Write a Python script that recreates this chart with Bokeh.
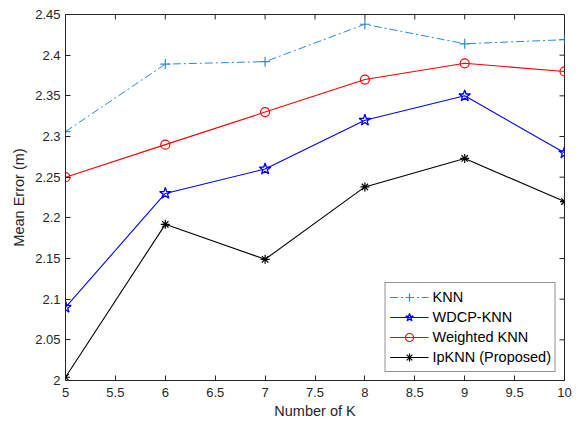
import math
from bokeh.plotting import figure
from bokeh.models import FixedTicker, Range1d, Legend, LegendItem
from bokeh.embed import file_html
from bokeh.resources import INLINE

k = [5, 6, 7, 8, 9, 10]
knn = [2.306, 2.389, 2.392, 2.438, 2.414, 2.419]
wdcp = [2.09, 2.23, 2.26, 2.32, 2.35, 2.28]
weighted = [2.25, 2.29, 2.33, 2.37, 2.39, 2.38]
ipknn = [2.004, 2.192, 2.149, 2.238, 2.273, 2.220]

x_ticks = [5, 5.5, 6, 6.5, 7, 7.5, 8, 8.5, 9, 9.5, 10]
x_labels = ["5", "5.5", "6", "6.5", "7", "7.5", "8", "8.5", "9", "9.5", "10"]
y_ticks = [2, 2.05, 2.1, 2.15, 2.2, 2.25, 2.3, 2.35, 2.4, 2.45]
y_labels = ["2", "2.05", "2.1", "2.15", "2.2", "2.25", "2.3", "2.35", "2.4", "2.45"]

FONT = "Liberation Sans"
AX = "#262626"
X0, X1, Y0, Y1 = 5, 10, 2, 2.45

p = figure(width=578, height=423, output_backend="svg", toolbar_location=None,
           x_range=Range1d(X0, X1), y_range=Range1d(Y0, Y1),
           min_border_left=65, min_border_right=14, min_border_top=14, min_border_bottom=43)
p.xgrid.visible = False
p.ygrid.visible = False
p.outline_line_color = AX
p.outline_line_width = 1
p.background_fill_color = "white"
p.border_fill_color = "white"

for ax in (p.xaxis[0], p.yaxis[0]):
    ax.major_tick_in = 5
    ax.major_tick_out = 0
    ax.minor_tick_in = 0
    ax.minor_tick_out = 0
    ax.axis_line_color = AX
    ax.major_tick_line_color = AX
    ax.major_label_text_font = FONT
    ax.major_label_text_font_size = "13px"
    ax.major_label_text_color = AX
    ax.axis_label_text_font = FONT
    ax.axis_label_text_font_size = "14.5px"
    ax.axis_label_text_font_style = "normal"
    ax.axis_label_text_color = AX

p.xaxis.ticker = FixedTicker(ticks=x_ticks)
p.xaxis.major_label_overrides = {t: l for t, l in zip(x_ticks, x_labels)}
p.yaxis.ticker = FixedTicker(ticks=y_ticks)
p.yaxis.major_label_overrides = {t: l for t, l in zip(y_ticks, y_labels)}
p.xaxis.axis_label = "Number of K"
p.yaxis.axis_label = "Mean Error (m)"
p.xaxis.major_label_standoff = 7
p.yaxis.major_label_standoff = 5
p.xaxis.axis_label_standoff = 3
p.yaxis.axis_label_standoff = 5

# top and right box ticks (inward), drawn at the tick positions
p.ray(x=x_ticks, y=[Y1] * len(x_ticks), length=5, length_units="screen",
      angle=-math.pi / 2, line_color=AX, line_width=1)
p.ray(x=[X1] * len(y_ticks), y=y_ticks, length=5, length_units="screen",
      angle=math.pi, line_color=AX, line_width=1)

c_knn = "#2f8ad0"
l1 = p.line(k, knn, line_color=c_knn, line_width=1, line_dash="8 3 2 3")
m1 = p.scatter(k, knn, marker="cross", size=10, line_color=c_knn, line_width=1.2)
l2 = p.line(k, wdcp, line_color="#0000ff", line_width=1.1)
m2 = p.scatter(k, wdcp, marker="star", size=12, line_color="#0000ff", fill_color=None, line_width=1.3)
l3 = p.line(k, weighted, line_color="#ff0000", line_width=1.1)
m3 = p.scatter(k, weighted, marker="circle", size=9, line_color="#ff0000", fill_color=None, line_width=1.2)
l4 = p.line(k, ipknn, line_color="#000000", line_width=1.1)
m4 = p.scatter(k, ipknn, marker="asterisk", size=9, line_color="#000000", line_width=1.2)

legend = Legend(items=[
    LegendItem(label="KNN", renderers=[l1, m1]),
    LegendItem(label="WDCP-KNN", renderers=[l2, m2]),
    LegendItem(label="Weighted KNN", renderers=[l3, m3]),
    LegendItem(label="IpKNN (Proposed)", renderers=[l4, m4]),
], location="bottom_right")
legend.label_text_font = FONT
legend.label_text_font_size = "14.5px"
legend.label_text_color = "#000000"
legend.border_line_color = AX
legend.border_line_width = 1
legend.background_fill_color = "white"
legend.background_fill_alpha = 1
legend.margin = 8
legend.padding = 4
legend.spacing = 0
legend.glyph_width = 39
legend.glyph_height = 20
legend.label_height = 20
legend.label_standoff = 4
p.add_layout(legend)

open("out.html", "w").write(file_html(p, INLINE))
